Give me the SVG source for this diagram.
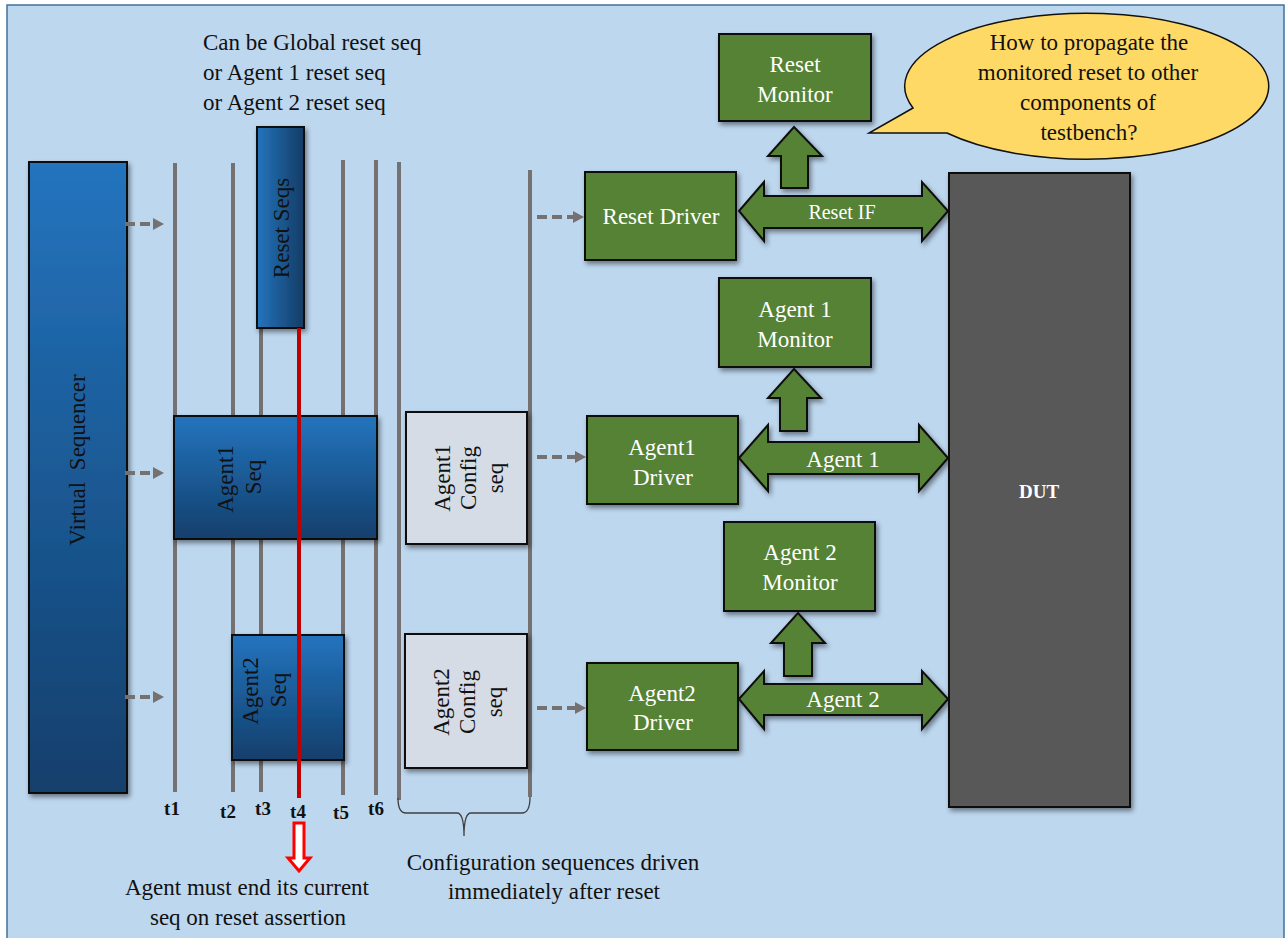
<svg xmlns="http://www.w3.org/2000/svg" width="1286" height="938" viewBox="0 0 1286 938" font-family="'Liberation Serif', 'DejaVu Serif', serif">
<defs>
<style>
.t{font-size:23px;fill:#111;}
.w{font-size:23px;fill:#fff;text-anchor:middle;}
.c{text-anchor:middle;}
.tl{font-size:19px;font-weight:bold;fill:#111;text-anchor:middle;}
.tl2{font-size:19px;font-weight:bold;fill:#fff;text-anchor:middle;}
.gl{stroke:#767171;stroke-width:4;fill:none;}
.green{fill:#548235;stroke:#111;stroke-width:2;filter:url(#sh);}
.cfg{fill:#D6DCE5;stroke:#111;stroke-width:2;filter:url(#sh);}
.da{stroke:#767171;stroke-width:4;stroke-dasharray:10 5;fill:none;}
.ah{fill:#767171;}
</style>
<filter id="sh" x="-20%" y="-20%" width="140%" height="140%">
<feDropShadow dx="2" dy="3" stdDeviation="2.5" flood-color="#000" flood-opacity="0.45"/>
</filter>
<linearGradient id="bv" x1="0" y1="0" x2="0" y2="1">
<stop offset="0" stop-color="#2474BE"/>
<stop offset="1" stop-color="#123F6C"/>
</linearGradient>
<linearGradient id="bh" x1="0" y1="0" x2="1" y2="0">
<stop offset="0" stop-color="#2474BE"/>
<stop offset="1" stop-color="#143C64"/>
</linearGradient>
</defs>
<rect x="0" y="0" width="1286" height="938" fill="#fff"/>
<rect x="7" y="5" width="1277" height="945" fill="#BDD7EE" stroke="#41719C" stroke-width="1.5"/>

<g id="note-top">
<text class="t" x="203" y="50">Can be Global reset seq</text>
<text class="t" x="203" y="80">or Agent 1 reset seq</text>
<text class="t" x="203" y="110">or Agent 2 reset seq</text>
</g>

<g id="timelines">
<line class="gl" x1="175" y1="163" x2="175" y2="792"/>
<line class="gl" x1="233" y1="163" x2="233" y2="792"/>
<line class="gl" x1="261" y1="163" x2="261" y2="792"/>
<line class="gl" x1="343" y1="160" x2="343" y2="795"/>
<line class="gl" x1="376" y1="160" x2="376" y2="795"/>
<line class="gl" x1="399" y1="162" x2="399" y2="800"/>
<line class="gl" x1="530" y1="170" x2="530" y2="797"/>
</g>

<g id="virtual-sequencer">
<rect x="29" y="162" width="98" height="631" fill="url(#bv)" stroke="#111" stroke-width="2" filter="url(#sh)"/>
<text class="t c" transform="rotate(-90)" x="-460" y="85" word-spacing="6">Virtual Sequencer</text>
</g>

<g id="reset-seqs">
<rect x="257" y="127" width="47" height="201" fill="url(#bh)" stroke="#111" stroke-width="2" filter="url(#sh)"/>
<text class="t c" transform="rotate(-90)" x="-228" y="289">Reset Seqs</text>
</g>

<g id="agent1-seq">
<rect x="174" y="416" width="203" height="123" fill="url(#bv)" stroke="#111" stroke-width="2" filter="url(#sh)"/>
<text class="t c" transform="rotate(-90)" x="-479" y="233">Agent1</text>
<text class="t c" transform="rotate(-90)" x="-477" y="261">Seq</text>
</g>

<g id="agent2-seq">
<rect x="232" y="635" width="112" height="125" fill="url(#bv)" stroke="#111" stroke-width="2" filter="url(#sh)"/>
<text class="t c" transform="rotate(-90)" x="-691" y="258">Agent2</text>
<text class="t c" transform="rotate(-90)" x="-690" y="286">Seq</text>
</g>

<g id="reset-line">
<line x1="299" y1="328" x2="299" y2="798" stroke="#C00000" stroke-width="4"/>
<polygon points="294,823 304,823 304,858 310,858 299,871 288,858 294,858" fill="#fff" stroke="#FF0000" stroke-width="3"/>
</g>

<g id="time-labels">
<text class="tl" x="172" y="815">t1</text>
<text class="tl" x="228" y="818">t2</text>
<text class="tl" x="263" y="815">t3</text>
<text class="tl" x="298" y="818">t4</text>
<text class="tl" x="341" y="819">t5</text>
<text class="tl" x="376" y="815">t6</text>
</g>

<g id="note-bottom-left">
<text class="t c" x="247" y="895">Agent must end its current</text>
<text class="t c" x="248" y="925">seq on reset assertion</text>
</g>

<g id="agent1-config">
<rect class="cfg" x="406" y="412" width="121" height="132"/>
<text class="t c" transform="rotate(-90)" x="-478" y="450">Agent1</text>
<text class="t c" transform="rotate(-90)" x="-478" y="476">Config</text>
<text class="t c" transform="rotate(-90)" x="-478" y="503">seq</text>
</g>

<g id="agent2-config">
<rect class="cfg" x="405" y="634" width="122" height="134"/>
<text class="t c" transform="rotate(-90)" x="-702" y="449">Agent2</text>
<text class="t c" transform="rotate(-90)" x="-702" y="475">Config</text>
<text class="t c" transform="rotate(-90)" x="-702" y="502">seq</text>
</g>

<g id="config-brace">
<path d="M398 798 Q398 813 406 813 L457 813 Q464 813 464 836 Q464 813 471 813 L522 813 Q530 813 530 797" fill="none" stroke="#404040" stroke-width="1.3"/>
<text class="t c" x="553" y="870">Configuration sequences driven</text>
<text class="t c" x="554" y="899">immediately after reset</text>
</g>

<g id="connectors">
<line class="da" x1="125" y1="224" x2="154" y2="224"/>
<polygon class="ah" points="153,218 164,224 153,230"/>
<line class="da" x1="125" y1="473" x2="154" y2="473"/>
<polygon class="ah" points="153,467 164,473 153,479"/>
<line class="da" x1="125" y1="697" x2="154" y2="697"/>
<polygon class="ah" points="153,691 164,697 153,703"/>
<line class="da" x1="537" y1="217" x2="574" y2="217"/>
<polygon class="ah" points="573,211 584,217 573,223"/>
<line class="da" x1="537" y1="457" x2="576" y2="457"/>
<polygon class="ah" points="575,451 586,457 575,463"/>
<line class="da" x1="537" y1="708" x2="576" y2="708"/>
<polygon class="ah" points="575,702 586,708 575,714"/>
</g>

<g id="reset-driver">
<rect class="green" x="585" y="172" width="151" height="88"/>
<text class="w" x="661" y="224">Reset Driver</text>
</g>

<g id="reset-monitor">
<rect class="green" x="719" y="34" width="152" height="87"/>
<text class="w" x="795" y="72">Reset</text>
<text class="w" x="795" y="102">Monitor</text>
</g>

<g id="reset-if">
<polygon class="green" points="794,127 822,156 808,156 808,188 781,188 781,156 768,156"/>
<polygon class="green" points="739,211 764,182 764,196 922,196 922,182 948,211 922,241 922,228 764,228 764,241"/>
<text class="w" style="font-size:20px" x="842" y="219">Reset IF</text>
</g>

<g id="agent1-monitor">
<rect class="green" x="719" y="278" width="152" height="89"/>
<text class="w" x="795" y="317">Agent 1</text>
<text class="w" x="795" y="347">Monitor</text>
</g>

<g id="agent1-driver">
<rect class="green" x="587" y="416" width="151" height="88"/>
<text class="w" x="662" y="455">Agent1</text>
<text class="w" x="663" y="485">Driver</text>
</g>

<g id="agent1-if">
<polygon class="green" points="794,369 821,398 807,398 807,431 780,431 780,398 768,398"/>
<polygon class="green" points="739,458 768,425 768,442 919,442 919,425 948,458 919,491 919,474 768,474 768,491"/>
<text class="w" x="843" y="467">Agent 1</text>
</g>

<g id="agent2-monitor">
<rect class="green" x="724" y="522" width="151" height="89"/>
<text class="w" x="800" y="560">Agent 2</text>
<text class="w" x="800" y="590">Monitor</text>
</g>

<g id="agent2-driver">
<rect class="green" x="587" y="663" width="151" height="87"/>
<text class="w" x="662" y="701">Agent2</text>
<text class="w" x="663" y="730">Driver</text>
</g>

<g id="agent2-if">
<polygon class="green" points="798,613 825,643 812,643 812,676 784,676 784,643 771,643"/>
<polygon class="green" points="739,699 764,671 764,684 922,684 922,671 948,699 922,729 922,715 764,715 764,729"/>
<text class="w" x="843" y="707">Agent 2</text>
</g>

<g id="dut">
<rect x="949" y="173" width="181" height="634" fill="#595959" stroke="#111" stroke-width="2" filter="url(#sh)"/>
<text class="tl2" x="1039" y="498">DUT</text>
</g>

<g id="callout">
<path d="M913 108 L869 133 L947 133 A182 73 0 1 0 913 108 Z" fill="#FFD966" stroke="#111" stroke-width="1.5"/>
<text class="t c" x="1089" y="50">How to propagate the</text>
<text class="t c" x="1088" y="80">monitored reset to other</text>
<text class="t c" x="1088" y="110">components of</text>
<text class="t c" x="1089" y="140">testbench?</text>
</g>
</svg>
